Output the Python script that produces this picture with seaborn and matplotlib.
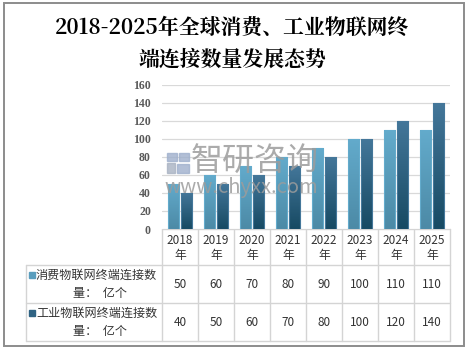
import numpy as np
import pandas as pd
import matplotlib
matplotlib.use("Agg")
import matplotlib.pyplot as plt
from matplotlib.patches import Rectangle
import seaborn as sns

years = ["2018", "2019", "2020", "2021", "2022", "2023", "2024", "2025"]
year_labels = ["2018\n年", "2019\n年", "2020\n年", "2021\n年", "2022\n年", "2023\n年", "2024\n年", "2025\n年"]
consumer = [50, 60, 70, 80, 90, 100, 110, 110]
industrial = [40, 50, 60, 70, 80, 100, 120, 140]
series_names = ["消费物联网终端连接数量：亿个", "工业物联网终端连接数量：亿个"]
row_line1 = ["消费物联网终端连接数", "工业物联网终端连接数"]
row_line2 = ["量：  亿个", "量：  亿个"]
yticks = [0, 20, 40, 60, 80, 100, 120, 140, 160]
title = "2018-2025年全球消费、工业物联网终\n端连接数量发展态势"

sns.set_theme(style="white")
plt.rcParams['font.family'] = ['Noto Sans CJK SC', 'DejaVu Sans']

W, H = 469, 350
fig = plt.figure(figsize=(W / 100, H / 100), dpi=100)

def px(x0, y0, x1, y1):
    return [x0 / W, 1 - y1 / H, (x1 - x0) / W, (y1 - y0) / H]

# overlay axes in pixel coordinates (border, title, table)
ov = fig.add_axes([0, 0, 1, 1])
ov.set_xlim(0, W)
ov.set_ylim(H, 0)
ov.axis("off")
ov.add_patch(Rectangle((4, 3), 460, 343, fill=False, edgecolor="#8c8c8c", lw=1.4))
ov.text(232, 44, title, ha="center", va="center", fontsize=15, color="#000000",
        linespacing=1.4, fontweight="bold",
        family=['Noto Serif CJK SC', 'Noto Sans CJK SC', 'DejaVu Sans'])

df = pd.DataFrame({
    "year": years * 2,
    "value": consumer + industrial,
    "series": [series_names[0]] * len(years) + [series_names[1]] * len(years),
})

ax = fig.add_axes(px(162, 84.7, 450, 229))
c_top = ["#63abcc", "#44779a"]
c_bot = ["#4c8aa6", "#174a63"]
sns.barplot(data=df, x="year", y="value", hue="series", order=years, hue_order=series_names,
            palette=["#5a9dbd", "#2f6383"], width=0.72, gap=0.12, ax=ax, legend=False,
            edgecolor="none", zorder=3)
ax.set_ylim(0, 160)
ax.set_xlim(-0.5, len(years) - 0.5)
ax.set_yticks(yticks)
ax.set_yticklabels([str(t) for t in yticks], family=['Liberation Serif', 'DejaVu Serif'],
                   fontweight="bold", fontsize=8.5, color="#595959")
ax.tick_params(axis="y", length=0, pad=8)
ax.set_xticks([])
ax.set_xlabel("")
ax.set_ylabel("")
for s in ["left", "right", "top", "bottom"]:
    ax.spines[s].set_visible(False)
ax.grid(axis="y", color="#d9d9d9", lw=0.9, zorder=0)
ax.set_axisbelow(True)

# gradient fill for bars
n = len(years)
for i, p in enumerate(ax.patches[:2 * n]):
    k = 0 if i < n else 1
    x0, y0 = p.get_x(), p.get_y()
    w, h = p.get_width(), p.get_height()
    top = np.array(matplotlib.colors.to_rgb(c_top[k]))
    bot = np.array(matplotlib.colors.to_rgb(c_bot[k]))
    t = np.linspace(0, 1, 64)[:, None]
    grad = (top * (1 - t) + bot * t)[:, None, :]
    grad = np.repeat(grad, 4, axis=1)
    im = ax.imshow(grad, extent=[x0, x0 + w, y0, y0 + h], aspect="auto", zorder=4,
                   origin="upper", interpolation="bilinear")
    im.set_clip_path(p)
    ax.add_patch(Rectangle((x0, y0), w, h, fill=False, edgecolor=c_top[k], lw=0.8, zorder=5))
ax.set_xlim(-0.5, len(years) - 0.5)
ax.set_ylim(0, 160)

# watermark on top
wm = fig.add_axes([0, 0, 1, 1])
wm.set_xlim(0, W)
wm.set_ylim(H, 0)
wm.axis("off")
wm.patch.set_alpha(0)
wm.text(191, 161, "智研咨询", fontsize=23, color="#9c9c9c", alpha=0.85, va="center", ha="left")
wm.text(164, 187, "www.chyxx.com", fontsize=14.5, color="#9c9c9c", alpha=0.85, va="center", ha="left")
for (rx, ry, rw, rh, cc) in [(167, 153, 10, 8, "#9fb0cc"), (179, 153, 10, 8, "#9fb0cc"),
                            (167, 163, 8, 10, "#a8b2c2"), (177, 164, 12, 9, "#9fb0cc")]:
    wm.add_patch(Rectangle((rx, ry), rw, rh, color=cc, alpha=0.8))

# data table
gc = "#d4d4d4"
xs = [162 + 36 * i for i in range(n + 1)]
y_h0, y_h1, y_r1, y_r2 = 229, 265, 303, 341
ov.plot([162, 450], [y_h0, y_h0], color=gc, lw=1)
for x in xs:
    ov.plot([x, x], [y_h0, y_r2], color=gc, lw=1)
ov.plot([26, 26], [y_h1, y_r2], color=gc, lw=1)
for y in [y_h1, y_r1, y_r2]:
    ov.plot([26, 450], [y, y], color=gc, lw=1)
for i, lab in enumerate(year_labels):
    ov.text(xs[i] + 18, (y_h0 + y_h1) / 2 + 1, lab, ha="center", va="center", fontsize=8.5,
            color="#333333", linespacing=1.3)
rows = [consumer, industrial]
sq_colors = ["#5a9dbd", "#2f6383"]
for r, (vals, ytop) in enumerate(zip(rows, [y_h1, y_r1])):
    ymid = ytop + 19
    for i, v in enumerate(vals):
        ov.text(xs[i] + 18, ymid, str(v), ha="center", va="center", fontsize=8.5, color="#333333")
    ov.add_patch(Rectangle((29, ytop + 7), 6, 6, color=sq_colors[r]))
    ov.text(36, ytop + 10, row_line1[r], ha="left", va="center", fontsize=8.7, color="#333333")
    ov.text(100, ytop + 28, row_line2[r], ha="center", va="center", fontsize=8.7, color="#333333")

fig.savefig("out.png", dpi=100)
